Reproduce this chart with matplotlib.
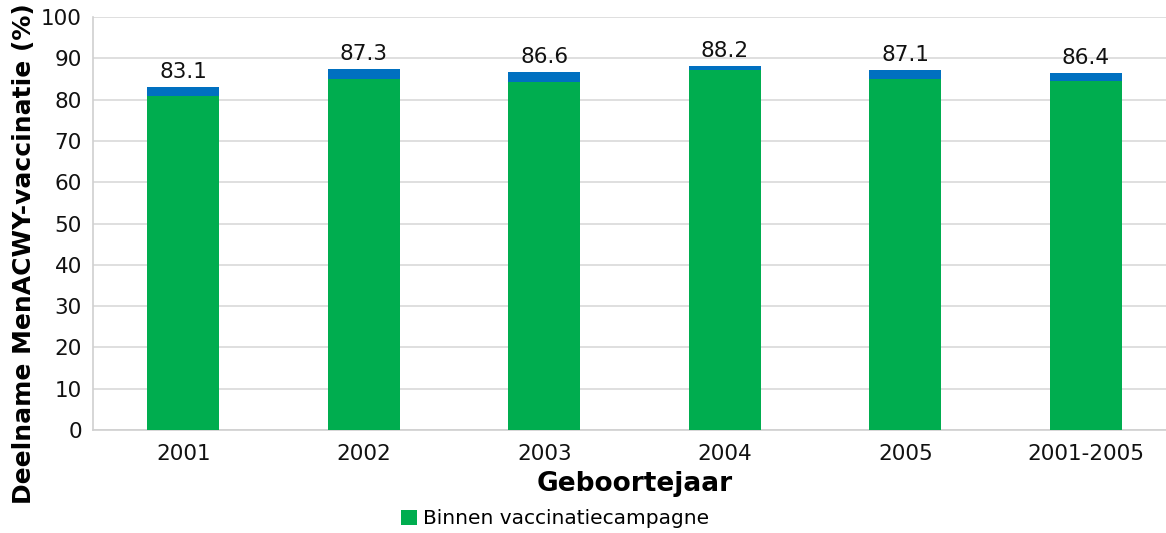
import matplotlib.pyplot as plt

# Deelname MenACWY-vaccinatie per geboortejaar
categories = ['2001', '2002', '2003', '2004', '2005', '2001-2005']
binnen = [80.8, 85.0, 84.2, 87.1, 85.0, 84.4]
totaal = [83.1, 87.3, 86.6, 88.2, 87.1, 86.4]
buiten = [t - b for t, b in zip(totaal, binnen)]

green = '#00ad4f'
blue = '#0070c0'

fig = plt.figure(figsize=(11.66, 5.33), dpi=100)
ax = fig.add_axes([93 / 1166, 103 / 533, 1083 / 1166, 413 / 533])

x = range(len(categories))
ax.bar(x, binnen, width=0.40, color=green, label='Binnen vaccinatiecampagne', zorder=3)
ax.bar(x, buiten, width=0.40, bottom=binnen, color=blue, zorder=3)

for xi, t in zip(x, totaal):
    ax.text(xi, t + 1.2, f'{t:.1f}', ha='center', va='bottom', fontsize=15.5, color='#111111')

ax.set_xlim(-0.5, 5.5)
ax.set_ylim(0, 100)
ax.set_yticks(range(0, 101, 10))
ax.set_xticks(list(x))
ax.set_xticklabels(categories)
ax.tick_params(axis='both', length=0, labelsize=15.5, labelcolor='#111111')
ax.tick_params(axis='y', pad=8)
ax.tick_params(axis='x', pad=10)
ax.grid(axis='y', color='#d9d9d9', linewidth=1.2, zorder=0)
for side in ['top', 'right']:
    ax.spines[side].set_visible(False)
for side in ['left', 'bottom']:
    ax.spines[side].set_color('#d0d0d0')
    ax.spines[side].set_linewidth(1.2)

ax.set_xlabel('Geboortejaar', fontsize=19, fontweight='bold', labelpad=5)
fig.text(24 / 1166, 29 / 533, 'Deelname MenACWY-vaccinatie (%)', rotation=90,
         ha='center', va='bottom', fontsize=18, fontweight='bold')

fig.legend(loc='center', bbox_to_anchor=(555 / 1166, 1 - 519 / 533), frameon=False,
           fontsize=14.5, handlelength=0.8, handleheight=0.8, handletextpad=0.3)

fig.savefig('out.png', dpi=100)
